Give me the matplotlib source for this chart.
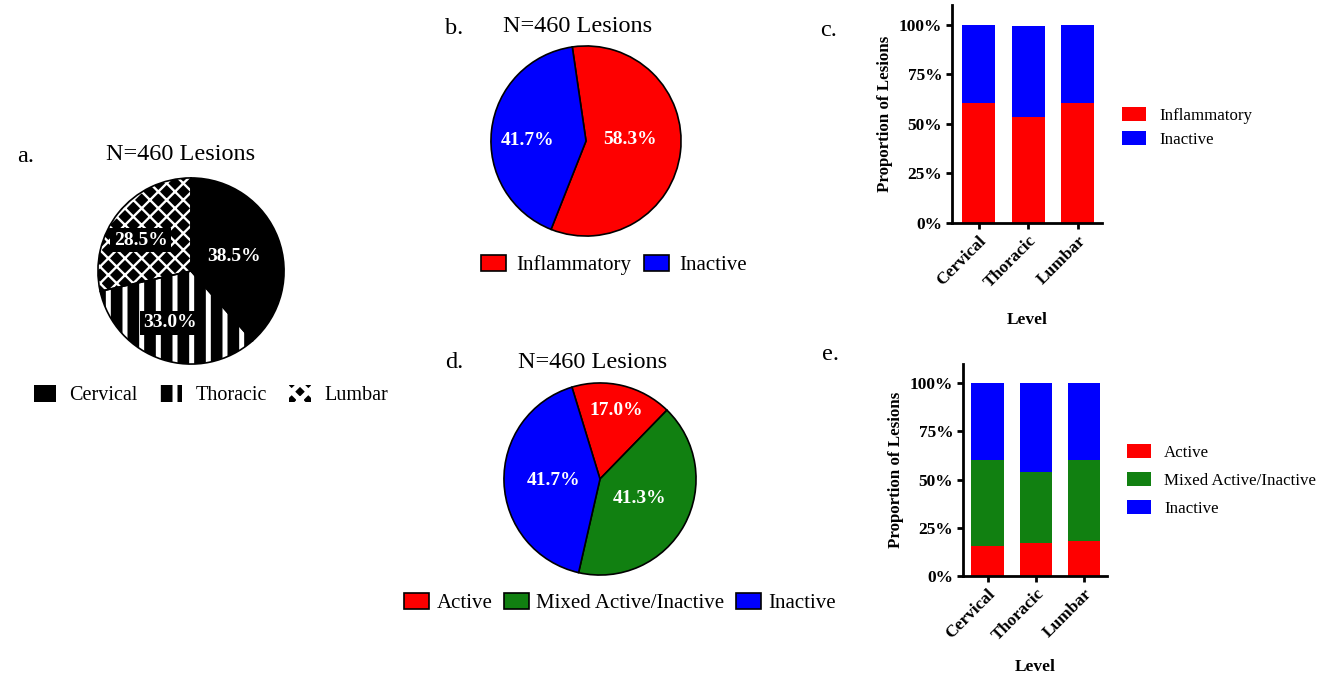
import matplotlib
matplotlib.use("Agg")
import matplotlib.pyplot as plt
import numpy as np

plt.rcParams['font.family'] = ['Liberation Serif', 'DejaVu Serif']
plt.rcParams['hatch.linewidth'] = 3.6

W, H = 1317, 674

# a. lesions by spinal level
level_labels = ['Cervical', 'Thoracic', 'Lumbar']
level_pct = [38.5, 33.0, 28.5]

# b. inflammatory vs inactive
infl_labels = ['Inflammatory', 'Inactive']
infl_pct = [58.3, 41.7]

# d. activity classes
act_labels = ['Active', 'Mixed Active/Inactive', 'Inactive']
act_pct = [17.0, 41.3, 41.7]

# c. proportion per level (inflammatory / inactive)
c_inflammatory = [60.3, 53.4, 60.3]
c_inactive = [39.7, 46.1, 39.7]

# e. proportion per level (active / mixed / inactive)
e_active = [15.7, 16.9, 18.1]
e_mixed = [44.7, 36.9, 41.9]
e_inactive = [39.6, 46.2, 40.0]

RED = '#fe0000'
BLUE = '#0000fe'
GREEN = '#118011'

fig = plt.figure(figsize=(W / 100, H / 100), dpi=100)


def px_axes(x0, y0, x1, y1):
    # pixel box (top-left origin) -> figure axes
    return fig.add_axes([x0 / W, 1 - y1 / H, (x1 - x0) / W, (y1 - y0) / H])


def fxy(x, y):
    return (x / W, 1 - y / H)


def draw_pie(ax, vals, colors, start, label_r, label_dth, hatches=None, hatch_lw=None, boxed=False):
    if hatches:
        wedges, _, autot = ax.pie(vals, colors=colors, startangle=start, counterclock=False,
                                  hatch=hatches, autopct='%.1f%%',
                                  wedgeprops=dict(edgecolor='white', linewidth=0))
        if hatch_lw:
            for w, lw in zip(wedges, hatch_lw):
                if hasattr(w, 'set_hatch_linewidth'):
                    w.set_hatch_linewidth(lw)
        ax.pie(vals, colors=['none'] * len(vals), startangle=start, counterclock=False,
               wedgeprops=dict(edgecolor='black', linewidth=1.2))
    else:
        wedges, _, autot = ax.pie(vals, colors=colors, startangle=start, counterclock=False,
                                  autopct='%.1f%%',
                                  wedgeprops=dict(edgecolor='black', linewidth=1.2))
    for w, t, r, dth in zip(wedges, autot, label_r, label_dth):
        th = np.deg2rad((w.theta1 + w.theta2) / 2 + dth)
        t.set_position((r * np.cos(th), r * np.sin(th)))
        t.set_color('white')
        t.set_fontweight('bold')
        t.set_fontsize(14)
        if boxed:
            t.set_bbox(dict(facecolor='black', edgecolor='none', pad=2.5))
    ax.set_xlim(-1.01, 1.01)
    ax.set_ylim(-1.01, 1.01)
    return wedges


def pie_legend(handles, labels, cx, cy, fs, hl, hh, pad, cs):
    fig.legend(handles, labels, loc='center', bbox_to_anchor=fxy(cx, cy),
               bbox_transform=fig.transFigure, ncol=len(labels), frameon=False,
               fontsize=fs, handlelength=hl, handleheight=hh, handletextpad=pad,
               columnspacing=cs, borderpad=0, borderaxespad=0)


def draw_bars(ax, stacks, colors, names, xlim, leg_x, leg_y, leg_space, xpad):
    x = np.arange(len(level_labels))
    bottom = np.zeros(len(x))
    for vals, col, nm in zip(stacks, colors, names):
        ax.bar(x, vals, 0.67, bottom=bottom, color=col, linewidth=0, label=nm)
        bottom += np.array(vals)
    ax.set_ylim(0, 110)
    ax.set_xlim(*xlim)
    ax.set_yticks([0, 25, 50, 75, 100])
    ax.set_yticklabels(['0%', '25%', '50%', '75%', '100%'], fontweight='bold', fontsize=12.5)
    ax.set_xticks(x)
    ax.set_xticklabels(level_labels, rotation=45, ha='right', rotation_mode='anchor',
                       fontweight='bold', fontsize=12.5)
    for s in ['top', 'right']:
        ax.spines[s].set_visible(False)
    for s in ['left', 'bottom']:
        ax.spines[s].set_linewidth(2)
    ax.tick_params(width=2, length=4, pad=3)
    ax.set_ylabel('Proportion of Lesions', fontweight='bold', fontsize=12.2)
    ax.set_xlabel('Level', fontweight='bold', fontsize=12.5, labelpad=xpad)
    ax.legend(loc='center left', bbox_to_anchor=fxy(leg_x, leg_y),
              bbox_transform=fig.transFigure, frameon=False, fontsize=12.2,
              handlelength=1.4, handleheight=0.85, handletextpad=0.8,
              labelspacing=leg_space, borderpad=0, borderaxespad=0)


# ---- a ----
ax_a = px_axes(97, 177, 285, 365)
wa = draw_pie(ax_a, level_pct, ['black', 'black', 'black'], 90,
              [0.485, 0.6, 0.635], [-1.5, -4, 7.4],
              hatches=['', '|', 'xx'], hatch_lw=[3.6, 3.6, 1.7], boxed=True)
pie_legend(wa, level_labels, 211, 395, 14.5, 1.1, 0.95, 0.65, 1.1)
fig.text(*fxy(181, 155), 'N=460 Lesions', fontsize=17.5, ha='center', va='center')
fig.text(*fxy(17, 157), 'a.', fontsize=17.5, ha='left', va='center')

# ---- b ----
ax_b = px_axes(490, 45, 682, 237)
wb = draw_pie(ax_b, infl_pct, [RED, BLUE], 98.3, [0.46, 0.615], [8.0, 6.6])
pie_legend(wb, infl_labels, 614, 265, 15, 1.2, 0.82, 0.5, 0.6)
fig.text(*fxy(578, 26), 'N=460 Lesions', fontsize=17.5, ha='center', va='center')
fig.text(*fxy(445, 29), 'b.', fontsize=17.5, ha='left', va='center')

# ---- d ----
ax_d = px_axes(503, 382, 697, 576)
wd = draw_pie(ax_d, act_pct, [RED, GREEN, BLUE], 107, [0.73, 0.46, 0.48], [0, 2, 0])
pie_legend(wd, act_labels, 620, 603, 15, 1.2, 0.82, 0.35, 0.55)
fig.text(*fxy(593, 362), 'N=460 Lesions', fontsize=17.5, ha='center', va='center')
fig.text(*fxy(445, 362), 'd.', fontsize=17.5, ha='left', va='center')

# ---- c ----
ax_c = px_axes(952, 5, 1102, 223)
draw_bars(ax_c, [c_inflammatory, c_inactive], [RED, BLUE], infl_labels,
          (-0.535, 2.49), 1122, 127.5, 0.42, 15)
fig.text(*fxy(820, 30), 'c.', fontsize=17.5, ha='left', va='center')

# ---- e ----
ax_e = px_axes(963, 364, 1107, 576)
draw_bars(ax_e, [e_active, e_mixed, e_inactive], [RED, GREEN, BLUE], act_labels,
          (-0.507, 2.47), 1127, 480.5, 0.68, 10.5)
fig.text(*fxy(822, 355), 'e.', fontsize=17.5, ha='left', va='center')

fig.savefig('out.png', dpi=100)
